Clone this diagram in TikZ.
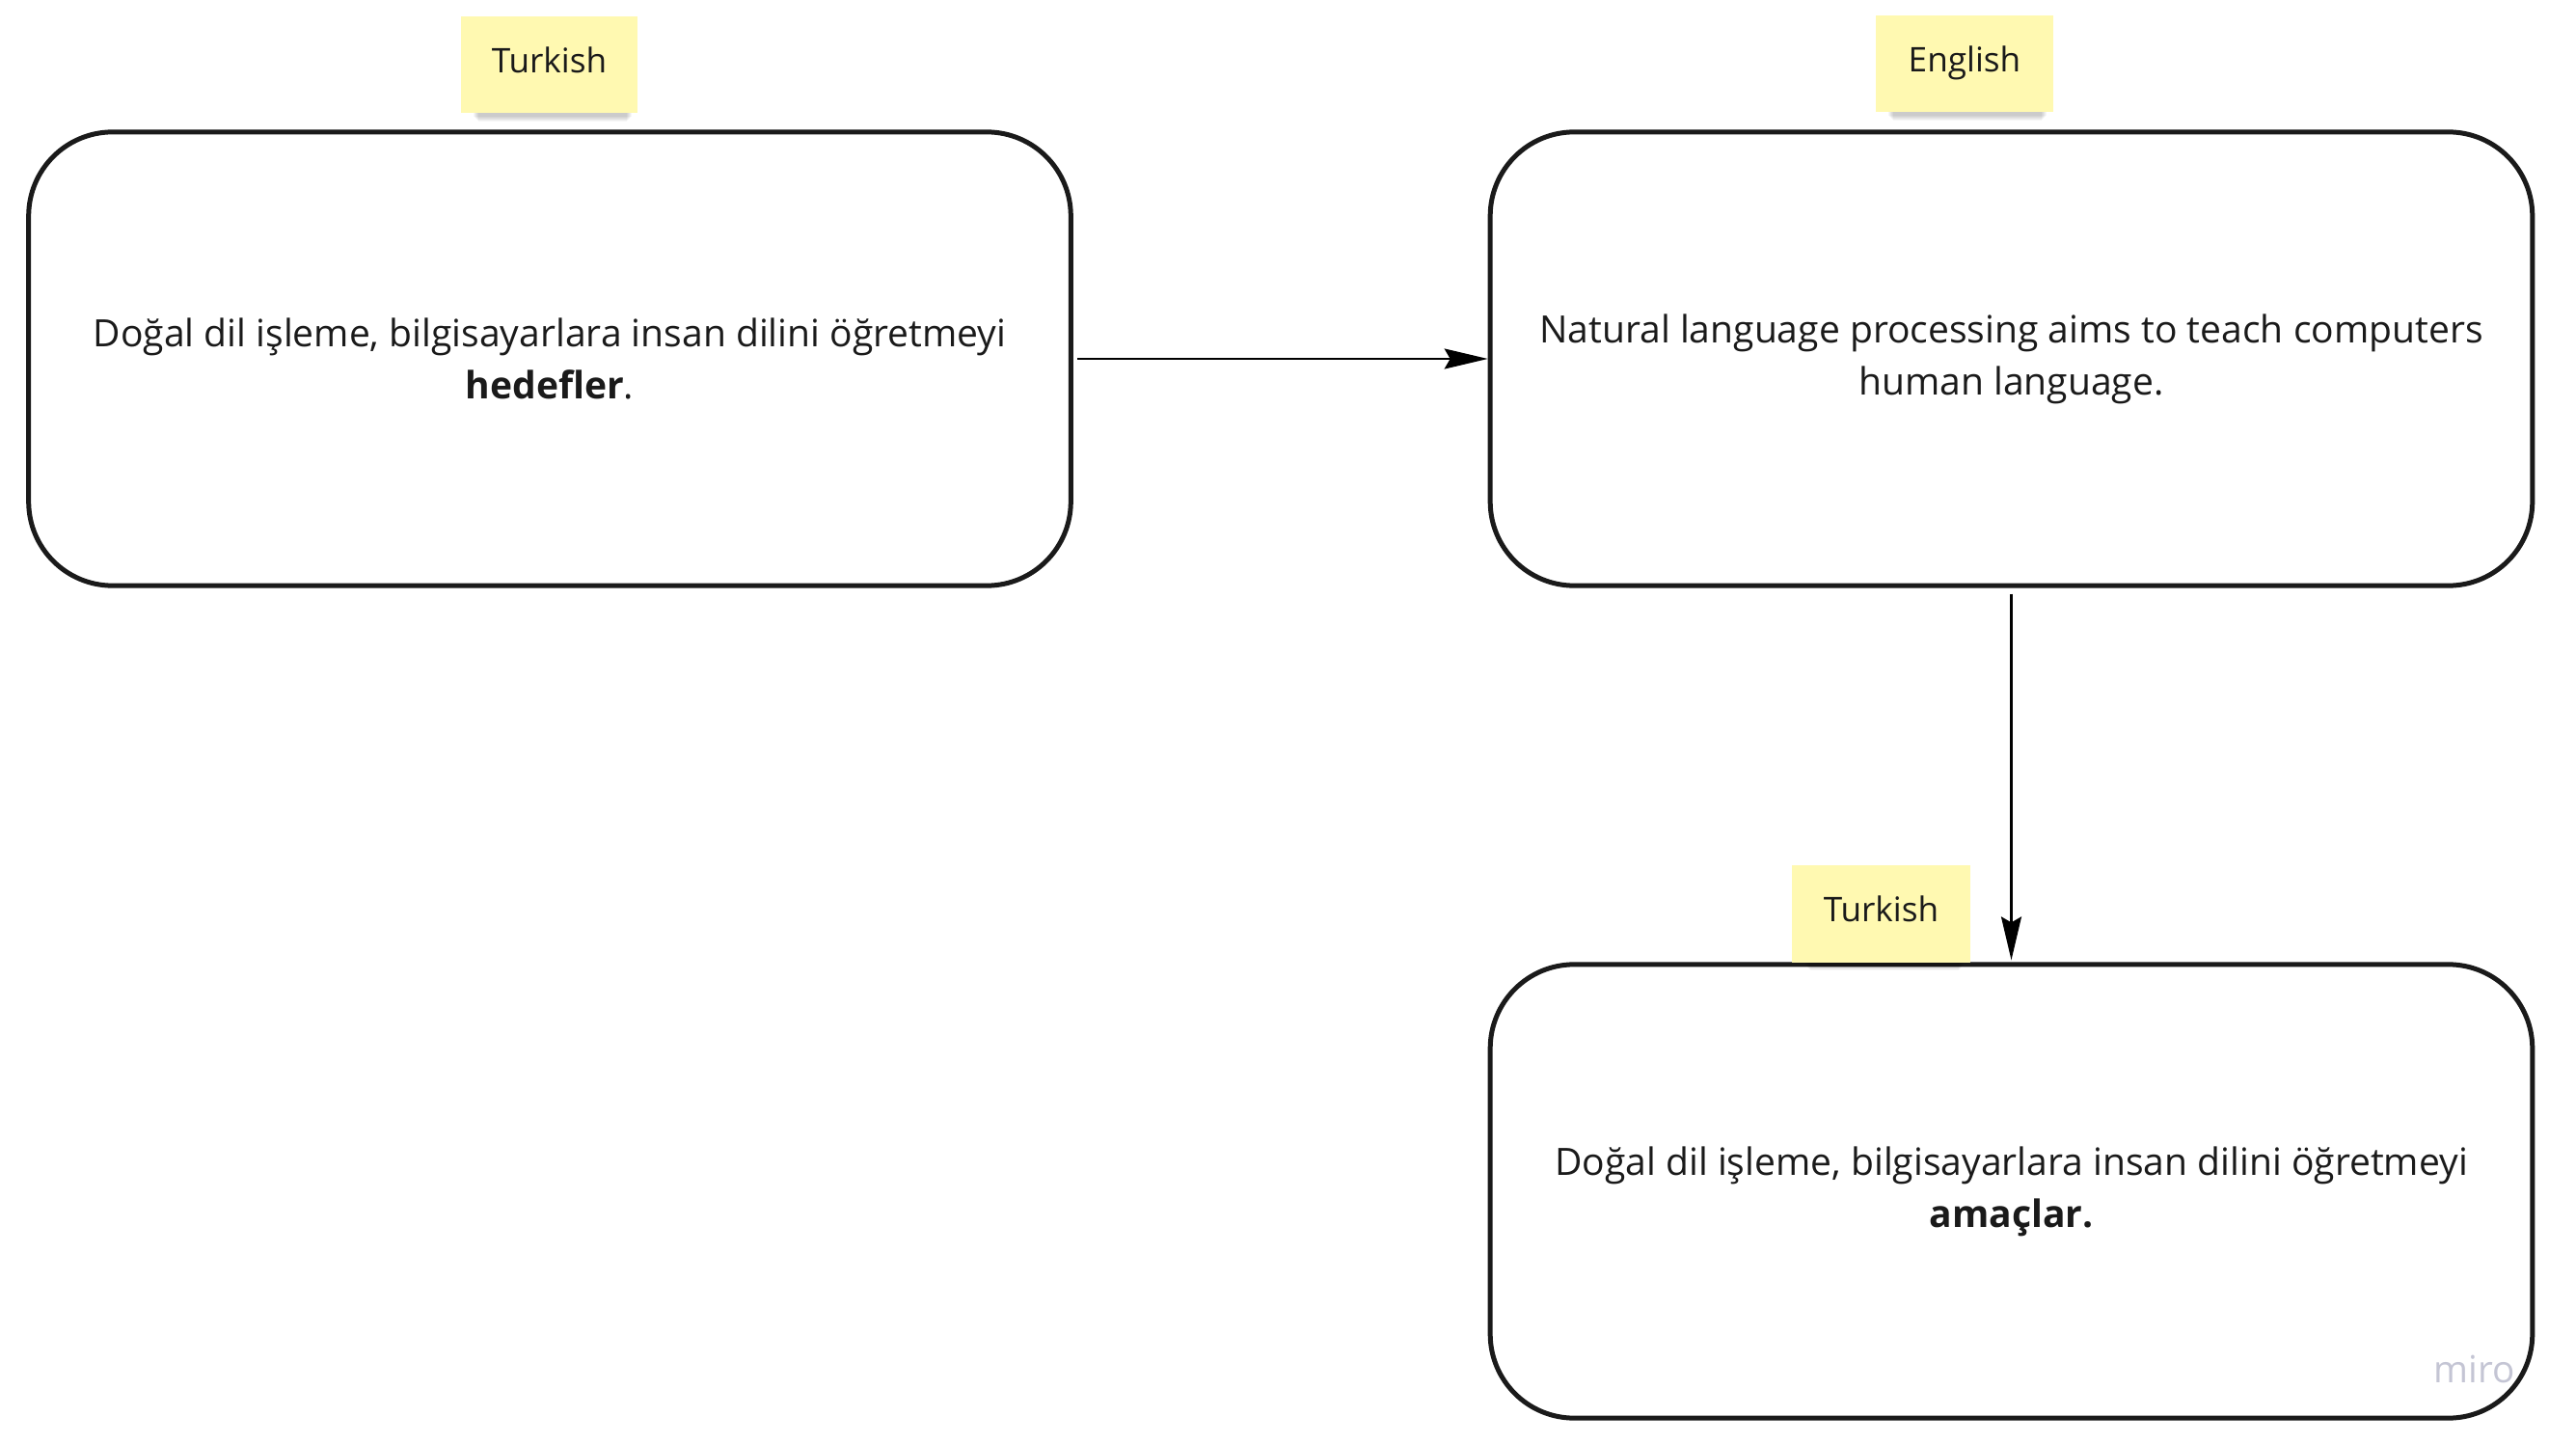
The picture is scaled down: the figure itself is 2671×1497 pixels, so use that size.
\documentclass[tikz,border=0pt]{standalone}
\usepackage{fontspec}
\setmainfont{Open Sans}
\usetikzlibrary{arrows.meta}
\definecolor{sticky}{HTML}{FFF9B1}
\definecolor{wm}{HTML}{C4C5D4}
\definecolor{ink}{HTML}{1A1A1A}
\tikzset{
  card/.style={draw=ink, line width=1.42pt, rounded corners=0.87cm, fill=white,
    minimum width=10.8cm, minimum height=4.7cm, align=center, inner sep=0pt,
    font=\fontsize{11.1}{15.4}\selectfont, text=ink},
  note/.style={fill=sticky, minimum height=1cm, inner sep=0pt,
    text height=0.26cm, text depth=0.1cm,
    font=\fontsize{10}{12}\selectfont, text=ink},
  link/.style={draw=black, line width=0.6pt,
    -{Stealth[length=0.45cm, width=0.21cm, inset=0.06cm]}},
  shade/.style={fill=black, opacity=0.035},
}
\begin{document}
\begin{tikzpicture}[x=0.01cm, y=-0.01cm]
\useasboundingbox (0,0) rectangle (2671,1497);
\fill[white] (0,0) rectangle (2671,1497);
% boxes
\node[card] (tr1) at (570,372) {Doğal dil işleme, bilgisayarlara insan dilini öğretmeyi\\\textbf{hedefler}.};
\node[card] (en) at (2085.5,372) {Natural language processing aims to teach computers\\human language.};
\node[card] (tr2) at (2085.5,1235) {Doğal dil işleme, bilgisayarlara insan dilini öğretmeyi\\\textbf{amaçlar.}};
% watermark
\node[text=wm, font=\fontsize{11}{11}\selectfont, inner sep=0pt, anchor=base] (miro) at (2566,1433) {miro};
% sticky shadows
\foreach \cx/\cy in {569.5/117, 2037/116, 1950.5/997}{
  \foreach \k in {1,...,6}{
    \fill[shade] (\cx-80+\k,\cy-20+\k) rectangle (\cx+86-\k,\cy+3+\k);
  }
}
% stickies
\node[note, minimum width=1.82cm] (n1) at (569.5,67) {Turkish};
\node[note, minimum width=1.84cm] (n2) at (2037,66) {English};
\node[note, minimum width=1.85cm] (n3) at (1950.5,947.5) {Turkish};
% arrows
\draw[link, shorten <=0.04cm] (tr1.east) -- (en.west);
\draw[link, shorten <=0.06cm, shorten >=0.02cm] (en.south) -- (tr2.north);
\end{tikzpicture}
\end{document}
